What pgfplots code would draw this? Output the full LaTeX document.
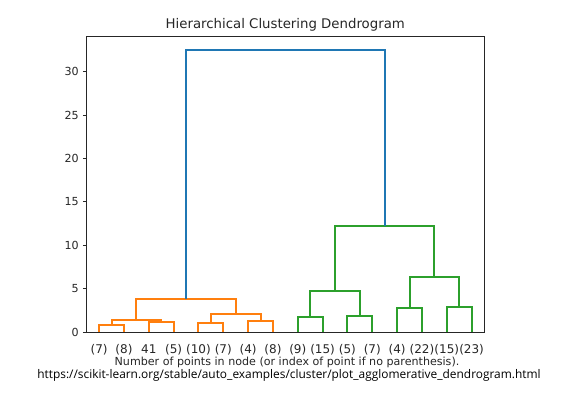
\documentclass[border=0pt]{standalone}
\usepackage{pgfplots}
\pgfplotsset{compat=1.18}
\usepackage{fontspec}
\setmainfont{DejaVu Sans}
\newfontfamily\urlfont{Open Sans}
\definecolor{C0}{HTML}{1F77B4}
\definecolor{C1}{HTML}{FF7F0E}
\definecolor{C2}{HTML}{2CA02C}
\begin{document}
\begin{tikzpicture}[x=1pt,y=1pt]
\path (0,0) rectangle (573,394);
\begin{axis}[
  at={(86.7pt,62pt)}, anchor=south west,
  scale only axis, width=397.3pt, height=296pt,
  xmin=0, xmax=160, ymin=0, ymax=34.125,
  xtick={5,15,...,155},
  xticklabels={(7),(8),41,(5),(10),(7),(4),(8),(9),(15),(5),(7),(4),(22),(15),(23)},
  ytick={0,5,...,30},
  xtick pos=bottom, ytick pos=left,
  tick align=outside, major tick length=3.9pt,
  xtick style={draw=none},
  ytick style={line width=0.9pt, black!85},
  /pgf/number format/assume math mode=true,
  yticklabel style={font=\fontsize{11.1}{13}\selectfont, text=black!85, inner sep=0pt, xshift=-3.9pt},
  xticklabel style={font=\fontsize{12}{14}\selectfont, text=black!85, inner sep=0pt, anchor=base, yshift=-18pt},
  axis line style={line width=0.9pt, black!85},
  clip=false,
]
% orange cluster
\addplot[C1, line width=2pt] coordinates {(5,0) (5,0.84) (15,0.84) (15,0)};
\addplot[C1, line width=2pt] coordinates {(25,0) (25,1.15) (35,1.15) (35,0)};
\addplot[C1, line width=2pt] coordinates {(10,0.84) (10,1.41) (30,1.41) (30,1.15)};
\addplot[C1, line width=2pt] coordinates {(45,0) (45,0.99) (55,0.99) (55,0)};
\addplot[C1, line width=2pt] coordinates {(65,0) (65,1.22) (75,1.22) (75,0)};
\addplot[C1, line width=2pt] coordinates {(50,0.99) (50,2.02) (70,2.02) (70,1.22)};
\addplot[C1, line width=2pt] coordinates {(20,1.41) (20,3.79) (60,3.79) (60,2.02)};
% green cluster
\addplot[C2, line width=2pt] coordinates {(85,0) (85,1.76) (95,1.76) (95,0)};
\addplot[C2, line width=2pt] coordinates {(105,0) (105,1.84) (115,1.84) (115,0)};
\addplot[C2, line width=2pt] coordinates {(90,1.76) (90,4.75) (110,4.75) (110,1.84)};
\addplot[C2, line width=2pt] coordinates {(125,0) (125,2.72) (135,2.72) (135,0)};
\addplot[C2, line width=2pt] coordinates {(145,0) (145,2.84) (155,2.84) (155,0)};
\addplot[C2, line width=2pt] coordinates {(130,2.72) (130,6.36) (150,6.36) (150,2.84)};
\addplot[C2, line width=2pt] coordinates {(100,4.75) (100,12.2) (140,12.2) (140,6.36)};
% root
\addplot[C0, line width=2pt] coordinates {(40,3.79) (40,32.5) (120,32.5) (120,12.2)};
\end{axis}
\node[anchor=base, font=\fontsize{13.3}{15}\selectfont, text=black!85] at (285.3,365) {Hierarchical Clustering Dendrogram};
\node[font=\fontsize{11.1}{13}\selectfont, text=black!85] at (287,32) {Number of points in node (or index of point if no parenthesis).};
\node[font=\urlfont\fontsize{11.9}{13}\selectfont] at (289,18.5) {https://scikit-learn.org/stable/auto\_examples/cluster/plot\_agglomerative\_dendrogram.html};
\end{tikzpicture}
\end{document}
